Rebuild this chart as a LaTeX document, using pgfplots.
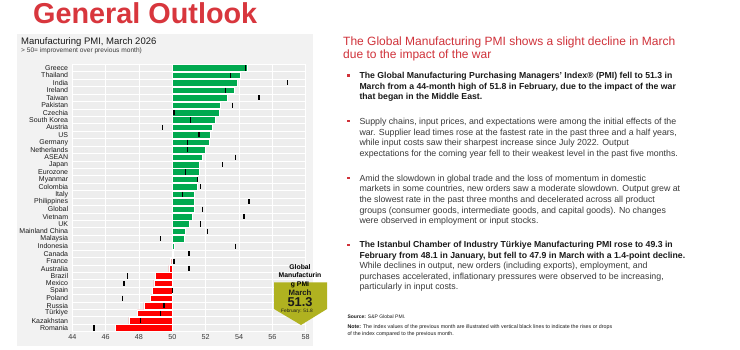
\documentclass[border=0pt]{standalone}
\usepackage{fontspec}
\setmainfont{Liberation Sans}
\usepackage{pgfplots}
\usepackage{pgfplotstable}
\pgfplotsset{compat=1.18}
\definecolor{titlered}{HTML}{D8363D}
\definecolor{headred}{HTML}{D0323A}
\definecolor{pmigreen}{HTML}{00A94F}
\definecolor{pmired}{HTML}{FF0000}
\definecolor{palegreen}{HTML}{8ED8A8}
\definecolor{palered}{HTML}{F2A0A0}
\definecolor{panelgray}{HTML}{F2F2F2}
\definecolor{plotgray}{HTML}{EDEDED}
\definecolor{olive}{RGB}{176,178,32}
\definecolor{boldtxt}{HTML}{1A1A1A}
\definecolor{regtxt}{HTML}{3A3A3A}
\newcommand\fs[1]{\fontsize{#1}{#1}\selectfont}

\pgfplotstableread[col sep=comma]{
idx,name,pmi,prev
0,Greece,54.5,54.4
1,Thailand,54.1,53.5
2,India,53.9,56.9
3,Ireland,53.7,53.2
4,Taiwan,53.3,55.2
5,Pakistan,52.9,53.6
6,Czechia,52.8,50.1
7,South Korea,52.6,51.1
8,Austria,52.4,49.4
9,US,52.3,51.6
10,Germany,52.2,50.9
11,Netherlands,52.0,50.9
12,ASEAN,51.8,53.8
13,Japan,51.6,53.0
14,Eurozone,51.6,50.8
15,Myanmar,51.5,51.5
16,Colombia,51.5,51.7
17,Italy,51.3,50.6
18,Philippines,51.3,54.6
19,Global,51.3,51.8
20,Vietnam,51.2,54.3
21,UK,51.0,51.7
22,Mainland China,50.8,52.1
23,Malaysia,50.7,49.3
24,Indonesia,50.1,53.8
25,Canada,50.05,51.0
26,France,49.85,50.1
27,Australia,49.8,51.0
28,Brazil,49.0,47.3
29,Mexico,48.9,47.1
30,Spain,48.8,50.0
31,Poland,48.7,47.0
32,Russia,48.3,49.5
33,Türkiye,47.9,49.3
34,Kazakhstan,47.4,48.1
35,Romania,46.6,45.3
}\pmidata

\begin{document}
\begin{tikzpicture}[x=1pt,y=1pt]
\useasboundingbox (0,0) rectangle (740,-350);
\fill[white] (0,0) rectangle (740,-350);
\fill[panelgray] (17,-34) rectangle (313,-346);
\node[anchor=base west, inner sep=0pt, text=titlered, font=\fs{28.8}\bfseries] at (33,-23.3) {General Outlook};
\node[anchor=base west, inner sep=0pt, font=\fs{9.5}, text=boldtxt] at (21,-45) {Manufacturing PMI, March 2026};
\node[anchor=base west, inner sep=0pt, font=\fs{6.6}, text=regtxt] at (21,-52.5) {> 50= improvement over previous month)};

\begin{axis}[
  at={(72.3pt,-331.7pt)}, anchor=south west,
  scale only axis, width=233.4pt, height=267.4pt,
  xmin=-6, xmax=8, ymin=-0.5, ymax=35.5, y dir=reverse,
  xtick={-6,-4,...,8}, xticklabels={44,46,48,50,52,54,56,58},
  ytick={0,...,35}, yticklabels from table={\pmidata}{name},
  minor ytick={-0.5,0.5,...,35.5},
  xmajorgrids, yminorgrids,
  major grid style={white, line width=0.9pt},
  minor grid style={white, line width=0.7pt},
  axis line style={draw=none},
  major tick length=0pt, minor tick length=0pt,
  tick style={draw=none},
  axis background/.style={fill=plotgray},
  xticklabel style={font=\fs{7.2}, text=regtxt, inner sep=0pt, yshift=-2.6pt},
  yticklabel style={font=\fs{7}, text=boldtxt, inner sep=0pt, xshift=-4pt},
  /pgf/number format/assume math mode=true,
  clip=false,
]
\addplot[xbar, bar shift=0pt, bar width=6.6pt, fill=pmigreen, draw=white, line width=0.5pt,
  restrict y to domain=-1:24.5] table[x expr=\thisrow{pmi}-50, y=idx]{\pmidata};
\addplot[xbar, bar shift=0pt, bar width=6.6pt, fill=palegreen, draw=white, line width=0.3pt,
  restrict y to domain=24.5:25.5] table[x expr=\thisrow{pmi}-50, y=idx]{\pmidata};
\addplot[xbar, bar shift=0pt, bar width=6.6pt, fill=palered, draw=white, line width=0.3pt,
  restrict y to domain=25.5:26.5] table[x expr=\thisrow{pmi}-50, y=idx]{\pmidata};
\addplot[xbar, bar shift=0pt, bar width=6.6pt, fill=pmired, draw=white, line width=0.5pt,
  restrict y to domain=26.5:36] table[x expr=\thisrow{pmi}-50, y=idx]{\pmidata};
\addplot[only marks, mark=|, mark size=2.6pt, mark options={line width=1.1pt, draw=black}]
  table[x expr=\thisrow{prev}-50, y=idx]{\pmidata};
\end{axis}

% callout
\fill[olive] (274,-282.5) -- (327,-282.5) -- (327,-309) -- (301,-325) -- (274,-309) -- cycle;
\node[anchor=base, inner sep=0pt, font=\fs{6.8}\bfseries, text=black] at (300,-269.3) {Global};
\node[anchor=base, inner sep=0pt, font=\fs{6.8}\bfseries, text=black] at (300,-277.8) {Manufacturin};
\node[anchor=base, inner sep=0pt, font=\fs{6.8}\bfseries, text=black] at (300,-286.3) {g PMI};
\node[anchor=base, inner sep=0pt, font=\fs{7.8}\bfseries, text=boldtxt] at (300,-295) {March};
\node[anchor=base, inner sep=0pt, font=\fs{12.8}\bfseries, text=boldtxt] at (300,-306) {51.3};
\node[anchor=base, inner sep=0pt, font=\fs{4.8}, text=boldtxt] at (297,-312.3) {February: 51.8};

% right heading
\node[anchor=base west, inner sep=0pt, font=\fs{12}, text=headred] at (343,-45.5) {The Global Manufacturing PMI shows a slight decline in March};
\node[anchor=base west, inner sep=0pt, font=\fs{12}, text=headred] at (343,-58.5) {due to the impact of the war};

% bullets
\foreach \b in {78.8,124.6,181.3,248} {\fill[headred] (347.2,-\b+2.1) rectangle (349.5,-\b+4.4);}

\begin{scope}[every node/.style={anchor=base west, inner sep=0pt}]
\node[font=\fs{8.7}\bfseries, text=boldtxt] at (359.3,-78.8) {The Global Manufacturing Purchasing Managers’ Index® (PMI) fell to 51.3 in};
\node[font=\fs{8.7}\bfseries, text=boldtxt] at (359.3,-89.4) {March from a 44-month high of 51.8 in February, due to the impact of the war};
\node[font=\fs{8.7}\bfseries, text=boldtxt] at (359.3,-100.0) {that began in the Middle East.};

\node[font=\fs{8.8}, text=regtxt] at (359.3,-124.6) {Supply chains, input prices, and expectations were among the initial effects of the};
\node[font=\fs{8.8}, text=regtxt] at (359.3,-135.2) {war. Supplier lead times rose at the fastest rate in the past three and a half years,};
\node[font=\fs{8.8}, text=regtxt] at (359.3,-145.8) {while input costs saw their sharpest increase since July 2022. Output};
\node[font=\fs{8.8}, text=regtxt] at (359.3,-156.4) {expectations for the coming year fell to their weakest level in the past five months.};

\node[font=\fs{8.8}, text=regtxt] at (359.3,-181.3) {Amid the slowdown in global trade and the loss of momentum in domestic};
\node[font=\fs{8.8}, text=regtxt] at (359.3,-191.9) {markets in some countries, new orders saw a moderate slowdown. Output grew at};
\node[font=\fs{8.8}, text=regtxt] at (359.3,-202.5) {the slowest rate in the past three months and decelerated across all product};
\node[font=\fs{8.8}, text=regtxt] at (359.3,-213.1) {groups (consumer goods, intermediate goods, and capital goods). No changes};
\node[font=\fs{8.8}, text=regtxt] at (359.3,-223.7) {were observed in employment or input stocks.};

\node[font=\fs{8.7}\bfseries, text=boldtxt] at (359.3,-248) {The Istanbul Chamber of Industry Türkiye Manufacturing PMI rose to 49.3 in};
\node[font=\fs{8.7}\bfseries, text=boldtxt] at (359.3,-258.4) {February from 48.1 in January, but fell to 47.9 in March with a 1.4-point decline.};
\node[font=\fs{8.8}, text=regtxt] at (359.3,-268.8) {While declines in output, new orders (including exports), employment, and};
\node[font=\fs{8.8}, text=regtxt] at (359.3,-279.2) {purchases accelerated, inflationary pressures were observed to be increasing,};
\node[font=\fs{8.8}, text=regtxt] at (359.3,-289.6) {particularly in input costs.};

\node[font=\fs{5}, text=boldtxt] at (347.3,-318) {\textbf{Source:} S\&P Global PMI.};
\node[font=\fs{5.3}, text=boldtxt] at (347.3,-328) {\textbf{Note:} The index values of the previous month are illustrated with vertical black lines to indicate the rises or drops};
\node[font=\fs{5.3}, text=boldtxt] at (347.3,-335) {of the index compared to the previous month.};
\end{scope}
\end{tikzpicture}
\end{document}
